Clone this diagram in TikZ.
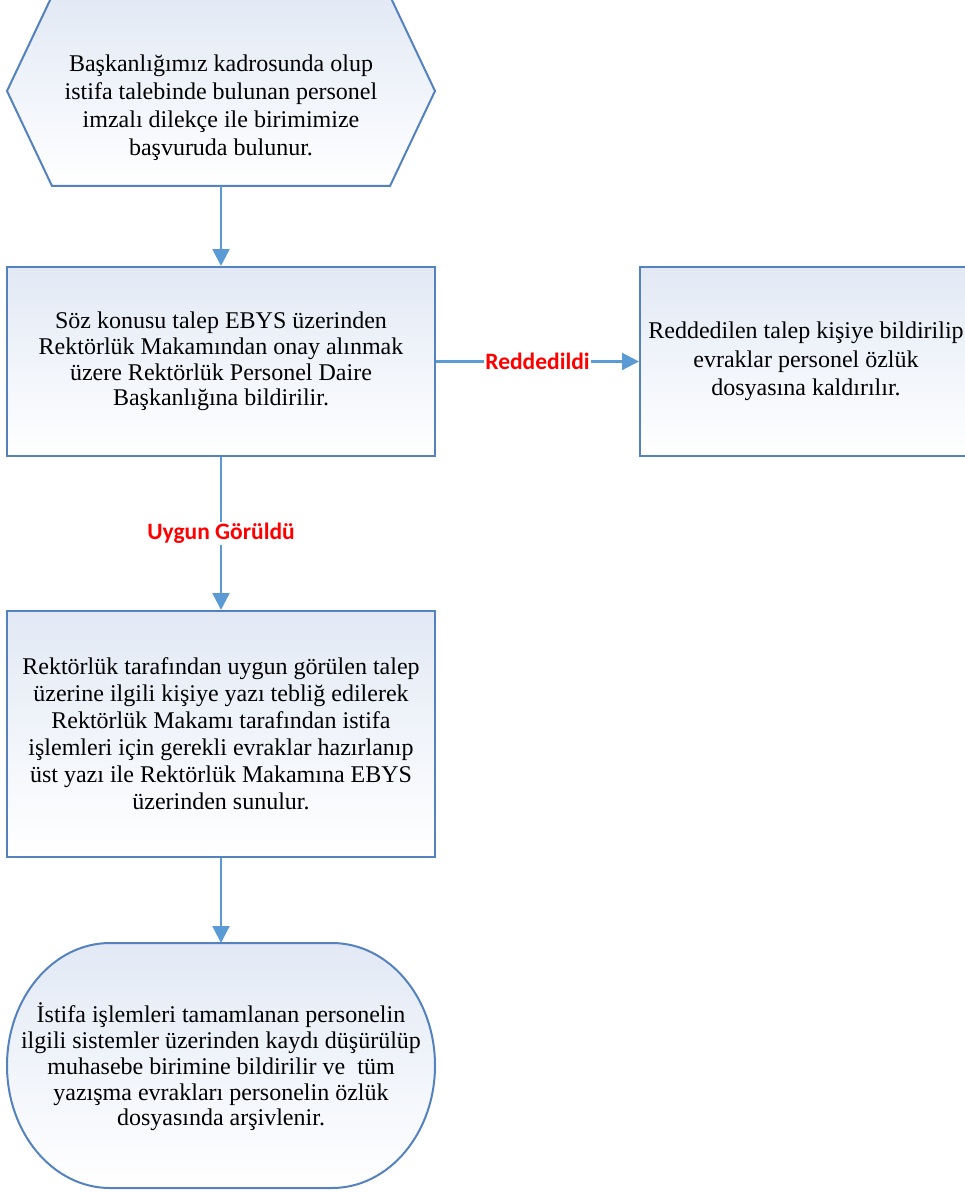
\documentclass[tikz,border=0pt]{standalone}
\usepackage{fontspec}
\setmainfont{Liberation Serif}
\newfontfamily\labelfont{Carlito}
\usetikzlibrary{arrows.meta}
\definecolor{edgeblue}{RGB}{84,130,190}
\definecolor{arrowblue}{RGB}{91,155,213}
\definecolor{filltop}{RGB}{226,233,245}
\definecolor{lblred}{RGB}{255,0,0}
\begin{document}
\begin{tikzpicture}[x=1pt,y=-1pt,
  shapeline/.style={draw=edgeblue,line width=2pt,top color=filltop,bottom color=white},
  procbox/.style={shapeline,rectangle,inner sep=0pt,align=center},
  txt/.style={align=center,inner sep=0pt},
  arrowline/.style={draw=arrowblue,line width=2.2pt,-{Triangle[length=17pt,width=17pt]}},
  lbl/.style={fill=white,text=lblred,inner sep=1pt,font=\labelfont\bfseries\fontsize{23.5}{26}\selectfont}]
\useasboundingbox (0,0) rectangle (965,1193);
% hexagon start
\path[shapeline] (52,-4) -- (390,-4) -- (435,91) -- (390,186) -- (52,186) -- (7,91) -- cycle;
\node[txt,font=\fontsize{24}{28}\selectfont] (start) at (221,108)
  {Başkanlığımız kadrosunda olup\\istifa talebinde bulunan personel\\imzalı dilekçe ile birimimize\\başvuruda bulunur.};
\coordinate (startbot) at (221,186);
% box 1
\node[procbox,minimum width=428pt,minimum height=189pt,font=\fontsize{24}{25.7}\selectfont] (b1) at (221,361.5)
  {Söz konusu talep EBYS üzerinden\\Rektörlük Makamından onay alınmak\\üzere Rektörlük Personel Daire\\Başkanlığına bildirilir.};
% box 2
\node[procbox,minimum width=332pt,minimum height=189pt,font=\fontsize{24}{28.5}\selectfont] (b2) at (806,361.5)
  {Reddedilen talep kişiye bildirilip\\evraklar personel özlük\\dosyasına kaldırılır.};
% box 3
\node[procbox,minimum width=428pt,minimum height=246pt,font=\fontsize{24}{27}\selectfont] (b3) at (221,734)
  {Rektörlük tarafından uygun görülen talep\\üzerine ilgili kişiye yazı tebliğ edilerek\\Rektörlük Makamı tarafından istifa\\işlemleri için gerekli evraklar hazırlanıp\\üst yazı ile Rektörlük Makamına EBYS\\üzerinden sunulur.};
% terminator
\path[shapeline] (110,943) -- (332,943) arc[start angle=-90,end angle=90,x radius=103,y radius=122.5]
  -- (110,1188) arc[start angle=90,end angle=270,x radius=103,y radius=122.5] -- cycle;
\node[txt,font=\fontsize{24}{25.7}\selectfont] (fin) at (221,1067)
  {İstifa işlemleri tamamlanan personelin\\ilgili sistemler üzerinden kaydı düşürülüp\\muhasebe birimine bildirilir ve\ \ tüm\\yazışma evrakları personelin özlük\\dosyasında arşivlenir.};
\coordinate (fintop) at (221,943);
% connectors
\draw[arrowline] (startbot) -- (b1.north);
\draw[arrowline] (b1.east) -- node[lbl]{Reddedildi} (b2.west);
\draw[arrowline] (b1.south) -- node[lbl]{Uygun Görüldü} (b3.north);
\draw[arrowline] (b3.south) -- (fintop);
\end{tikzpicture}
\end{document}
